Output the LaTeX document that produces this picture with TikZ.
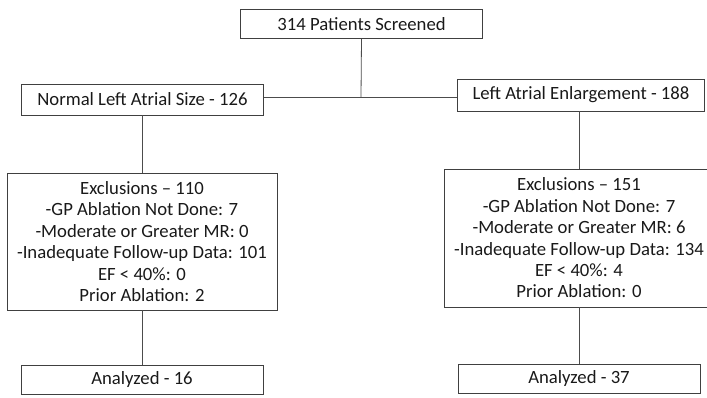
\documentclass[tikz,border=0pt]{standalone}
\usepackage{fontspec}
\setmainfont{Carlito}
\usetikzlibrary{positioning}

\begin{document}
\begin{tikzpicture}[x=1pt, y=-1pt,
    box/.style={draw=black!75, line width=0.8pt, text=black!90, inner sep=0pt,
      minimum width=242pt, minimum height=29pt, font=\fontsize{18.7}{21}\selectfont},
    exbox/.style={box, minimum width=270pt, minimum height=137pt, align=center,
      font=\fontsize{18.7}{21.4}\selectfont},
    link/.style={draw=black!70, line width=0.8pt}]
        \useasboundingbox (0,0) rectangle (707,397);
        \clip (0,0) rectangle (707,397);

        % Riquadri
        \node[box] (screened) at (361.5, 24) {314 Patients Screened};
        \node[box, minimum height=31pt] (normal) at (142.5, 99.5) {Normal Left Atrial Size - 126};
        \node[box, minimum width=247pt, minimum height=32pt] (lae) at (581, 95) {Left Atrial Enlargement - 188};
        \node[exbox] (exclL) at (142, 241.5) {Exclusions -- 110\\
            -GP Ablation Not Done: 7\\
            -Moderate or Greater MR: 0\\
            -Inadequate Follow-up Data: 101\\
            EF < 40\%: 0\\
            Prior Ablation: 2};
        \node[exbox, minimum height=138pt] (exclR) at (579, 238) {Exclusions -- 151\\
            -GP Ablation Not Done: 7\\
            -Moderate or Greater MR: 6\\
            -Inadequate Follow-up Data: 134\\
            EF < 40\%: 4\\
            Prior Ablation: 0};
        \node[box] (anaL) at (142, 379.5) {Analyzed - 16};
        \node[box] (anaR) at (579, 378.5) {Analyzed - 37};

        % Collegamenti
        \coordinate (split) at (361, 97);
        \draw[link] (screened.south) -- (split);
        \draw[link] (normal.east |- split) -- (lae.west |- split);
        \draw[link] (normal.south) -- (normal.south |- exclL.north);
        \draw[link] (exclR.north |- lae.south) -- (exclR.north);
        \draw[link] (exclL.south) -- (anaL.north);
        \draw[link] (exclR.south) -- (anaR.north);
    \end{tikzpicture}
\end{document}
